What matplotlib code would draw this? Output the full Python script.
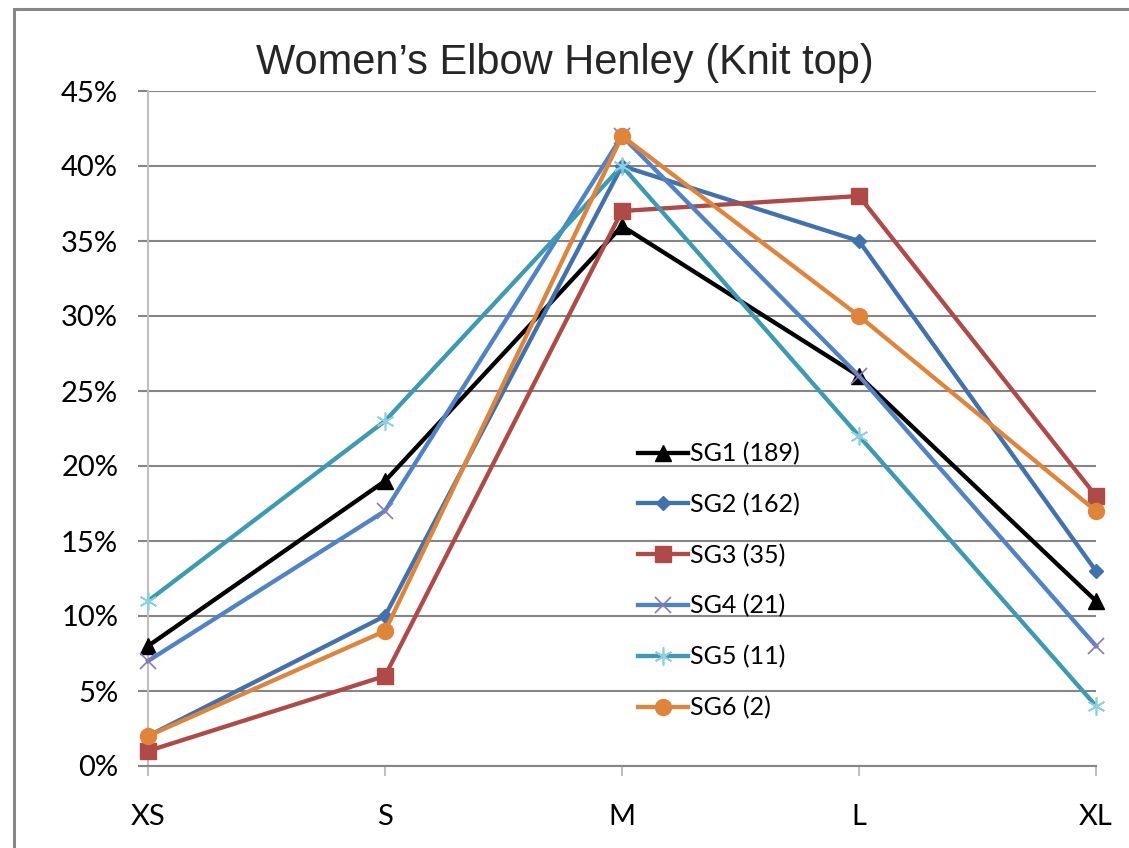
import matplotlib

matplotlib.use("Agg")
import matplotlib.pyplot as plt
from matplotlib.patches import Rectangle
from matplotlib.ticker import FuncFormatter, MultipleLocator

sizes = ["XS", "S", "M", "L", "XL"]

sg1 = [8, 19, 36, 26, 11]
sg2 = [2, 10, 40, 35, 13]
sg3 = [1, 6, 37, 38, 18]
sg4 = [7, 17, 42, 26, 8]
sg5 = [11, 23, 40, 22, 4]
sg6 = [2, 9, 42, 30, 17]

labels = ["SG1 (189)", "SG2 (162)", "SG3 (35)", "SG4 (21)", "SG5 (11)", "SG6 (2)"]

# (line colour, marker, marker size, marker face, marker edge, marker edge width)
styles = [
    ("#000000", "^", 11, "#000000", "#000000", 1.0),
    ("#3f72ae", "D", 7.5, "#3f72ae", "#3f72ae", 1.0),
    ("#b04a46", "s", 12, "#b04a46", "#b04a46", 1.0),
    ("#4f83c8", "x", 11, "none", "#8a7ab8", 1.2),
    ("#3a9bb2", (6, 2, 0), 13, "none", "#8ccfe0", 1.2),
    ("#e0843a", "o", 11.5, "#e0843a", "#e0843a", 1.0),
]

GRID = "#868686"
AXIS = "#bfbfbf"

plt.rcParams["font.family"] = ["Lato", "DejaVu Sans"]

fig = plt.figure(figsize=(11.29, 8.48), dpi=100)
ax = fig.add_axes([148 / 1129, 1 - 766 / 848, (1096 - 148) / 1129, (766 - 91) / 848])

x = list(range(len(sizes)))
for series, label, (color, marker, ms, mfc, mec, mew) in zip(
    [sg1, sg2, sg3, sg4, sg5, sg6], labels, styles
):
    ax.plot(x, series, color=color, lw=3.1, marker=marker, markersize=ms,
            markerfacecolor=mfc, markeredgecolor=mec, markeredgewidth=mew,
            label=label, clip_on=False, zorder=3)

ax.set_xlim(0, len(sizes) - 1)
ax.set_ylim(0, 45)
ax.yaxis.set_major_locator(MultipleLocator(5))
ax.yaxis.set_major_formatter(FuncFormatter(lambda v, _: f"{v:.0f}%"))
ax.set_xticks(x)
ax.set_xticklabels(sizes)

ax.grid(axis="y", color=GRID, lw=1.5, zorder=0)
ax.set_axisbelow(True)
for side in ("top", "right"):
    ax.spines[side].set_visible(False)
ax.spines["left"].set_color(AXIS)
ax.spines["left"].set_linewidth(1.5)
ax.spines["bottom"].set_color(GRID)
ax.spines["bottom"].set_linewidth(1.5)

ax.tick_params(axis="y", direction="out", length=7.5, width=1.5, color=GRID,
               pad=14, labelsize=21)
ax.tick_params(axis="x", direction="out", length=7.5, width=1.5, color=AXIS,
               pad=20, labelsize=21)

fig.text(0.5, 1 - 63 / 848, "Women\u2019s Elbow Henley (Knit top)",
         ha="center", va="center", fontsize=30,
         family=["Liberation Sans", "DejaVu Sans"], color="#262626")

fig.legend(loc="upper left", bbox_to_anchor=(628 / 1129, 1 - 432 / 848), frameon=False,
           fontsize=18, handlelength=2.0, handletextpad=0.1, labelspacing=1.1,
           borderaxespad=0)

# outer frame around the chart area
fig.patches.append(Rectangle((14 / 1129, -0.1), 1.2, 1 - 9 / 848 + 0.1,
                             transform=fig.transFigure, fill=False,
                             edgecolor="#878787", lw=2.2))

fig.savefig("out.png", dpi=100)
